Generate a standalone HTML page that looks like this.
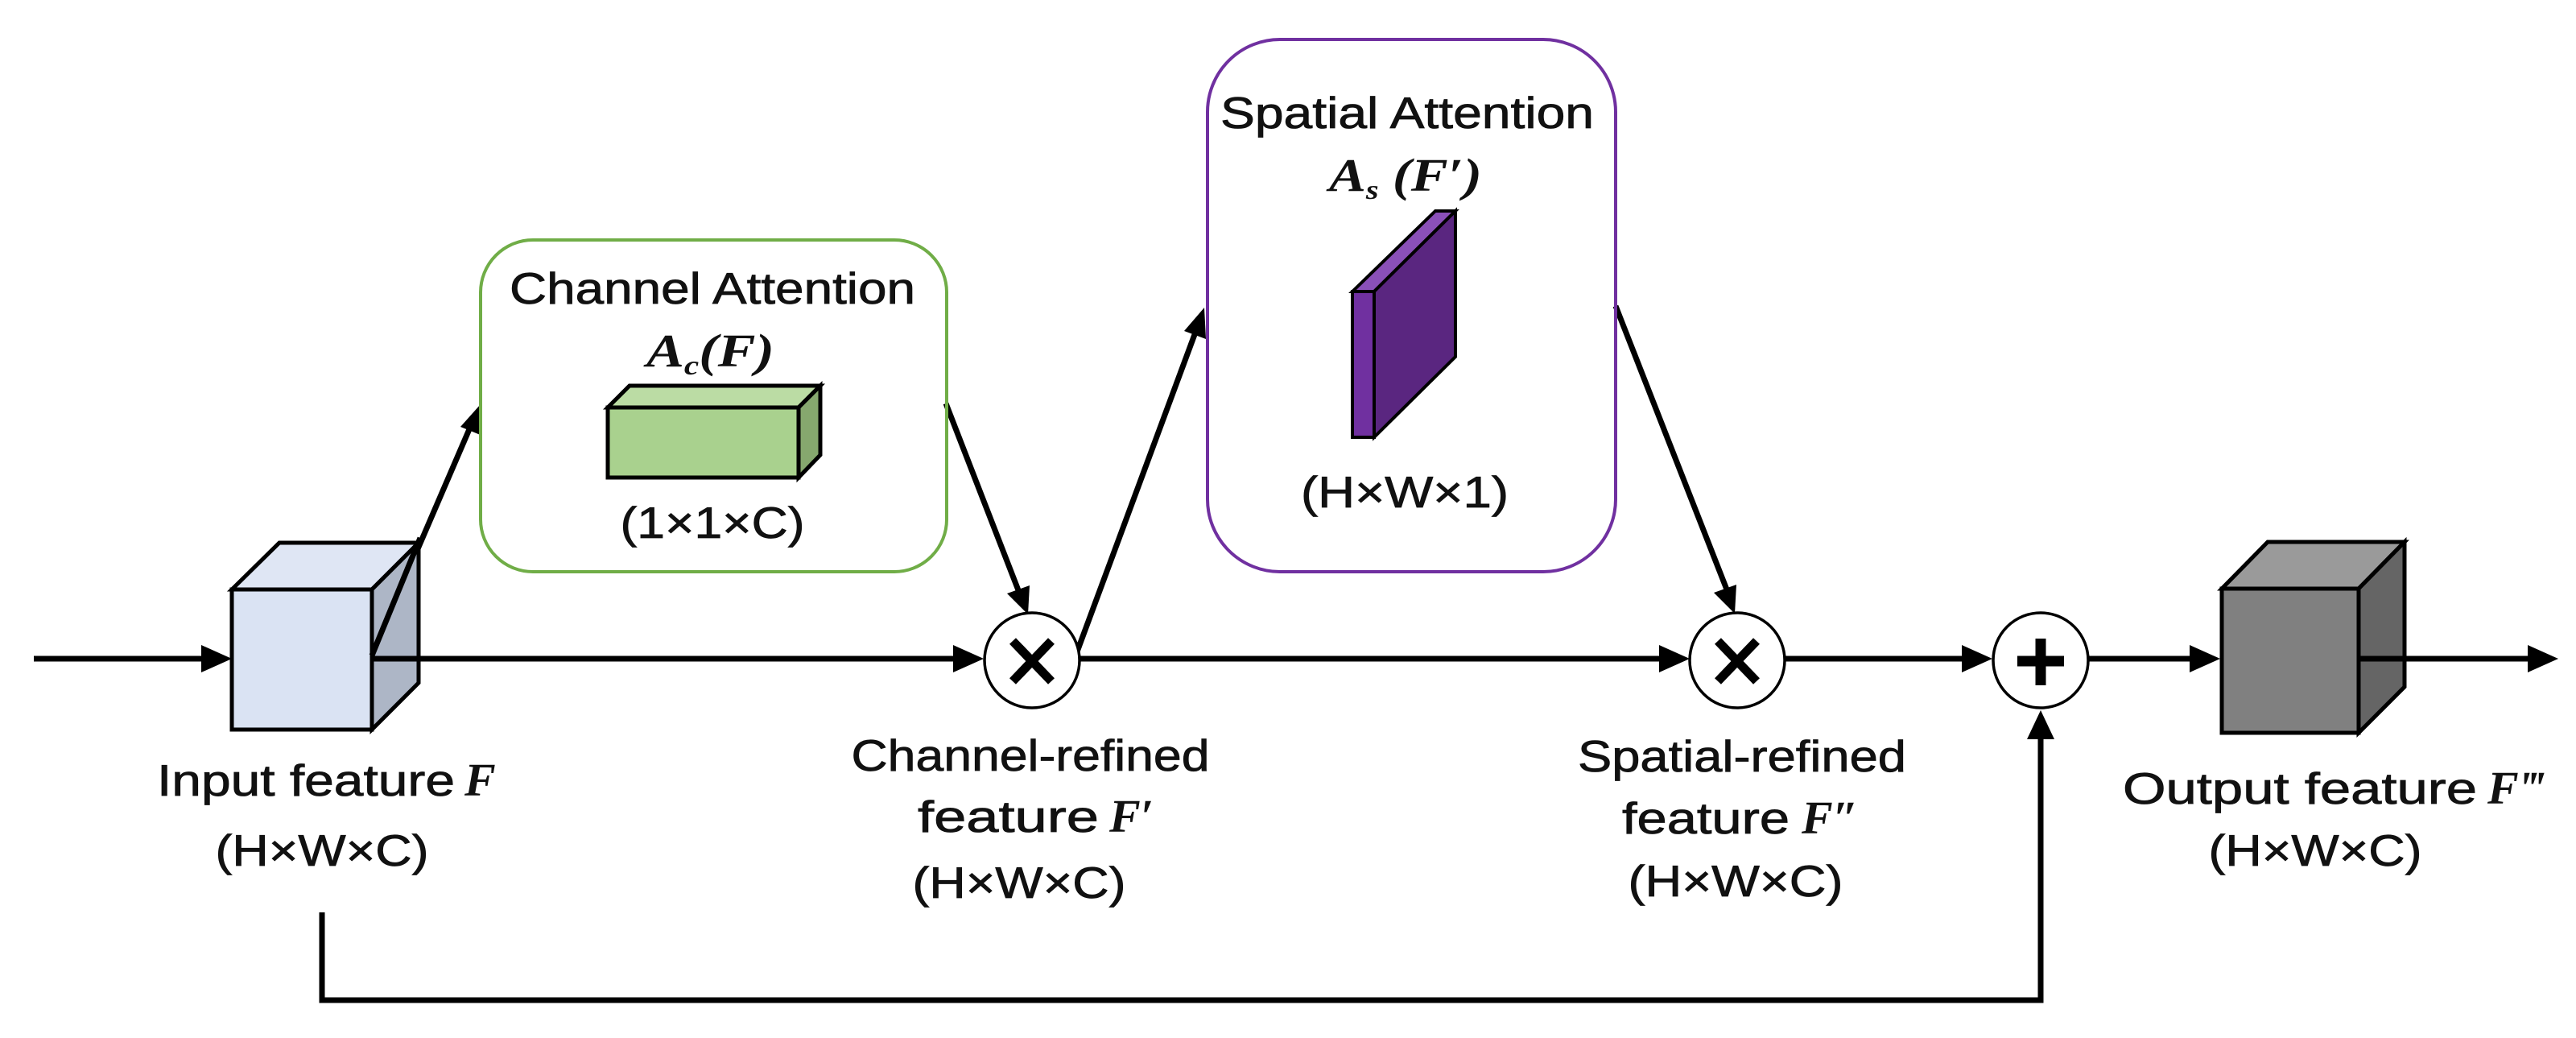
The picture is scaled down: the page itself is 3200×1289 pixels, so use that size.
<!DOCTYPE html>
<html><head><meta charset="utf-8"><style>
html,body{margin:0;padding:0;background:#fff;}
svg{display:block;}
.t{font-family:"Liberation Sans",sans-serif;font-size:55px;fill:#111;stroke:#111;stroke-width:0.8px;}
.m{font-family:"Liberation Serif",serif;font-weight:bold;font-style:italic;font-size:58px;fill:#111;}
</style></head><body>
<svg width="3200" height="1289" viewBox="0 0 3200 1289" xmlns="http://www.w3.org/2000/svg">
<g stroke="#000" stroke-width="7" fill="none">
<line x1="42" y1="818" x2="258" y2="818"/>
<line x1="462" y1="818" x2="1190" y2="818"/>
<line x1="1340" y1="818" x2="2070" y2="818"/>
<line x1="2217" y1="818" x2="2446" y2="818"/>
<line x1="2594" y1="818" x2="2725" y2="818"/>
<line x1="2930" y1="818" x2="3145" y2="818"/>
<polyline points="400,1133 400,1242 2535,1242 2535,912"/>
<line x1="462" y1="814" x2="583" y2="533"/>
<line x1="1175" y1="501" x2="1265" y2="733"/>
<line x1="1337" y1="812" x2="1486" y2="410"/>
<line x1="2007" y1="380" x2="2145" y2="732"/>
</g>
<g fill="#000">
<polygon points="288,818 250,801 250,835"/>
<polygon points="1222,818 1184,801 1184,835"/>
<polygon points="2099,818 2061,801 2061,835"/>
<polygon points="2475,818 2437,801 2437,835"/>
<polygon points="2758,818 2720,801 2720,835"/>
<polygon points="3178,818 3140,801 3140,835"/>
<polygon points="2535,882 2518,918 2552,918"/>
<polygon points="597,502 572,530 599,541"/>
<polygon points="1277,763 1251,737 1279,727"/>
<polygon points="1496,382 1471,411 1498,421"/>
<polygon points="2155,762 2129,736 2157,726"/>
</g>
<g stroke="#000" stroke-width="5" stroke-linejoin="miter">
<polygon points="288,732 347,674 520,674 462,732" fill="#dfe6f4"/>
<polygon points="462,732 520,674 520,848 462,906" fill="#adb6c6"/>
<rect x="288" y="732" width="174" height="174" fill="#dae3f3"/>
</g>
<line x1="462" y1="814" x2="522" y2="668" stroke="#000" stroke-width="7"/>
<line x1="462" y1="818" x2="520" y2="818" stroke="#000" stroke-width="7"/>
<rect x="597" y="298" width="579" height="412" rx="65" fill="none" stroke="#70ad47" stroke-width="4"/>
<text class="t" x="885" y="377" text-anchor="middle" textLength="504" lengthAdjust="spacingAndGlyphs">Channel Attention</text>
<text class="m" x="803" y="455" textLength="159" lengthAdjust="spacingAndGlyphs">A<tspan font-size="34" dy="10">c</tspan><tspan dy="-10">(F)</tspan></text>
<g stroke="#000" stroke-width="5">
<polygon points="755,506 782,479 1019,479 992,506" fill="#bbdca4"/>
<polygon points="992,506 1019,479 1019,565 992,593" fill="#86a86e"/>
<rect x="755" y="506" width="237" height="87" fill="#a9d18e"/>
</g>
<text class="t" x="885" y="668" text-anchor="middle" textLength="229" lengthAdjust="spacingAndGlyphs">(1×1×C)</text>
<rect x="1500" y="49" width="507" height="661" rx="90" fill="none" stroke="#7030a0" stroke-width="4"/>
<text class="t" x="1748" y="159" text-anchor="middle" textLength="464" lengthAdjust="spacingAndGlyphs">Spatial Attention</text>
<text class="m" x="1651" y="237" textLength="190" lengthAdjust="spacingAndGlyphs">A<tspan font-size="34" dy="10">s</tspan><tspan dy="-10"> (F′)</tspan></text>
<g stroke="#000" stroke-width="4" stroke-linejoin="miter">
<polygon points="1680,362 1783,262 1808,262 1707,362" fill="#8a50b8"/>
<polygon points="1707,362 1808,262 1808,443 1707,543" fill="#5a2680"/>
<rect x="1680" y="362" width="27" height="181" fill="#7030a0"/>
</g>
<text class="t" x="1745" y="630" text-anchor="middle" textLength="258" lengthAdjust="spacingAndGlyphs">(H×W×1)</text>
<g stroke="#000" stroke-width="3.5" fill="#fff">
<circle cx="1282" cy="820" r="59"/>
<circle cx="2158" cy="820" r="59"/>
<circle cx="2535" cy="820" r="59"/>
</g>
<g stroke="#000" stroke-width="11">
<line x1="1258" y1="796" x2="1306" y2="846"/><line x1="1306" y1="796" x2="1258" y2="846"/>
<line x1="2134" y1="796" x2="2182" y2="846"/><line x1="2182" y1="796" x2="2134" y2="846"/>
<line x1="2535" y1="793" x2="2535" y2="851" stroke-width="13"/><line x1="2506" y1="821" x2="2564" y2="821" stroke-width="13"/>
</g>
<g stroke="#000" stroke-width="5">
<polygon points="2760,731 2817,673 2987,673 2930,731" fill="#9a9a9a"/>
<polygon points="2930,731 2987,673 2987,853 2930,910" fill="#656565"/>
<rect x="2760" y="731" width="170" height="179" fill="#808080"/>
</g>
<line x1="2930" y1="818" x2="3145" y2="818" stroke="#000" stroke-width="7"/>
<text class="t" x="195" y="988" textLength="370" lengthAdjust="spacingAndGlyphs">Input feature</text>
<text class="m" x="577" y="988">F</text>
<text class="t" x="400" y="1075" text-anchor="middle" textLength="265" lengthAdjust="spacingAndGlyphs">(H×W×C)</text>
<text class="t" x="1280" y="957" text-anchor="middle" textLength="445" lengthAdjust="spacingAndGlyphs">Channel-refined</text>
<text class="t" x="1140" y="1033" textLength="225" lengthAdjust="spacingAndGlyphs">feature</text>
<text class="m" x="1378" y="1033">F′</text>
<text class="t" x="1266" y="1115" text-anchor="middle" textLength="265" lengthAdjust="spacingAndGlyphs">(H×W×C)</text>
<text class="t" x="2164" y="958" text-anchor="middle" textLength="408" lengthAdjust="spacingAndGlyphs">Spatial-refined</text>
<text class="t" x="2015" y="1035" textLength="208" lengthAdjust="spacingAndGlyphs">feature</text>
<text class="m" x="2238" y="1035">F″</text>
<text class="t" x="2156" y="1113" text-anchor="middle" textLength="267" lengthAdjust="spacingAndGlyphs">(H×W×C)</text>
<text class="t" x="2637" y="998" textLength="440" lengthAdjust="spacingAndGlyphs">Output feature</text>
<text class="m" x="3090" y="998">F‴</text>
<text class="t" x="2876" y="1075" text-anchor="middle" textLength="265" lengthAdjust="spacingAndGlyphs">(H×W×C)</text>
</svg>
</body></html>
